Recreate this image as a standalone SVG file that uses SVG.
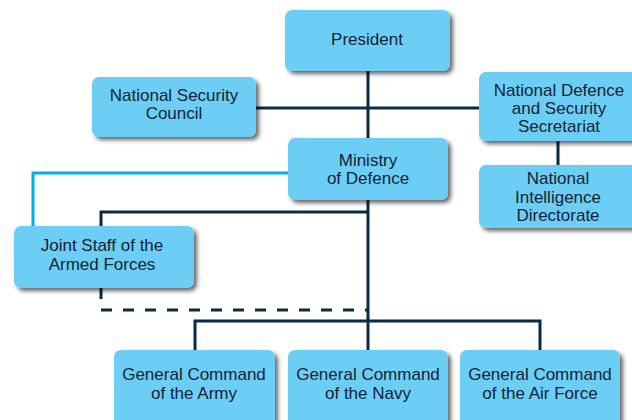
<svg xmlns="http://www.w3.org/2000/svg" width="632" height="420" viewBox="0 0 632 420">
<defs>
<filter id="sh" x="-10%" y="-10%" width="130%" height="140%">
<feDropShadow dx="3" dy="3" stdDeviation="2" flood-color="#000" flood-opacity="0.6"/>
</filter>
<style>
.box{fill:#6dcef5;filter:url(#sh)}
.t{font-family:"Liberation Sans",Arial,sans-serif;font-size:17px;fill:#0f2436;text-anchor:middle}
.c{fill:none;stroke:#0b2a44;stroke-width:3}
.d{fill:none;stroke:#0b2a44;stroke-width:3;stroke-dasharray:11 11}
.b{fill:none;stroke:#00aeef;stroke-width:3}
</style>
</defs>
<rect width="632" height="420" fill="#fff"/>
<g id="connectors">
<path class="c" d="M368 71V138M256 108H479M558 141V165M368 200V350M101 227V212H368M195 350V321H540V350"/>
<path class="b" d="M288 173H33V227"/>
<path class="d" d="M101 288V310H368"/>
</g>
<g id="president"><rect class="box" x="285" y="10" width="165" height="61" rx="7"/><text class="t" x="367" y="45">President</text></g>
<g id="nsc"><rect class="box" x="92" y="77" width="164" height="60" rx="7"/><text class="t" x="174" y="101">National Security</text><text class="t" x="174" y="119">Council</text></g>
<g id="ndss"><rect class="box" x="479" y="72" width="170" height="69" rx="7"/><text class="t" x="559" y="96">National Defence</text><text class="t" x="559" y="114">and Security</text><text class="t" x="559" y="132">Secretariat</text></g>
<g id="mod"><rect class="box" x="288" y="138" width="160" height="62" rx="7"/><text class="t" x="368" y="166">Ministry</text><text class="t" x="368" y="184">of Defence</text></g>
<g id="nid"><rect class="box" x="479" y="165" width="170" height="63" rx="7"/><text class="t" x="558" y="184">National</text><text class="t" x="558" y="203">Intelligence</text><text class="t" x="558" y="221">Directorate</text></g>
<g id="jsaf"><rect class="box" x="14" y="226" width="180" height="62" rx="7"/><text class="t" x="102" y="251">Joint Staff of the</text><text class="t" x="102" y="270">Armed Forces</text></g>
<g id="army"><rect class="box" x="114" y="350" width="161" height="80" rx="7"/><text class="t" x="194" y="380">General Command</text><text class="t" x="194" y="399">of the Army</text></g>
<g id="navy"><rect class="box" x="288" y="350" width="160" height="80" rx="7"/><text class="t" x="368" y="380">General Command</text><text class="t" x="368" y="399">of the Navy</text></g>
<g id="airforce"><rect class="box" x="460" y="350" width="160" height="80" rx="7"/><text class="t" x="540" y="380">General Command</text><text class="t" x="540" y="399">of the Air Force</text></g>
</svg>
